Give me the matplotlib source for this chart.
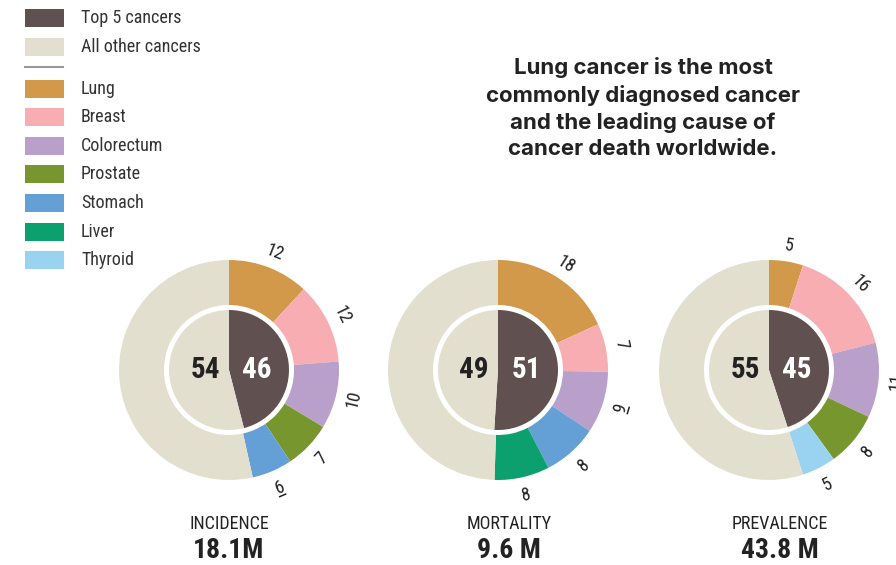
import numpy as np
import matplotlib
matplotlib.use('Agg')
import matplotlib.pyplot as plt
from matplotlib.patches import Rectangle
from matplotlib import font_manager

plt.close('all')

# fonts: try a narrow family for the numbers and labels
installed = {f.name for f in font_manager.fontManager.ttflist}
narrow = 'DejaVu Sans'
for name in ['Roboto Condensed', 'Liberation Sans Narrow', 'DejaVu Sans Condensed', 'Roboto']:
    if name in installed:
        narrow = name
        break
head_font = 'DejaVu Sans'
for name in ['Inter', 'Open Sans', 'Lato']:
    if name in installed:
        head_font = name
        break

# data
legend_names = ['Top 5 cancers', 'All other cancers', 'Lung', 'Breast',
                'Colorectum', 'Prostate', 'Stomach', 'Liver', 'Thyroid']
colors = {'Top 5 cancers': '#605050', 'All other cancers': '#e3dfcf',
          'Lung': '#d3994a', 'Breast': '#f7adb2', 'Colorectum': '#b9a0cb',
          'Prostate': '#77962e', 'Stomach': '#649fd6', 'Liver': '#0ca06f',
          'Thyroid': '#99d3f0'}

panel_names = ['INCIDENCE', 'MORTALITY', 'PREVALENCE']
panel_totals = ['18.1M', '9.6 M', '43.8 M']

incidence_sites = ['Lung', 'Breast', 'Colorectum', 'Prostate', 'Stomach']
incidence_vals = [12, 12, 10, 7, 6]
mortality_sites = ['Lung', 'Breast', 'Colorectum', 'Stomach', 'Liver']
mortality_vals = [18, 7, 9, 8, 8]
prevalence_sites = ['Lung', 'Breast', 'Colorectum', 'Prostate', 'Thyroid']
prevalence_vals = [5, 16, 11, 8, 5]

top5_share = [46, 51, 45]
other_share = [54, 49, 55]

title = ('Lung cancer is the most\ncommonly diagnosed cancer\n'
         'and the leading cause of\ncancer death worldwide.')

W, H = 896, 565
fig = plt.figure(figsize=(W / 100, H / 100), dpi=100)
ax = fig.add_axes([0, 0, 1, 1])


def Y(y):
    return H - y


ink = '#222222'
centers = [(229, 370), (498, 370), (769, 370)]
label_x = [229, 509, 780]
sites_all = [incidence_sites, mortality_sites, prevalence_sites]
vals_all = [incidence_vals, mortality_vals, prevalence_vals]
r_out, ring_w, r_in, r_lab = 110, 45, 60, 127
half_cap = 6.4  # half the digit height in px, to centre on baseline anchors

for i, (cx, cy) in enumerate(centers):
    sites = sites_all[i]
    vals = vals_all[i]
    ring = vals + [other_share[i]]
    ring_cols = [colors[s] for s in sites] + [colors['All other cancers']]
    ax.pie(ring, colors=ring_cols, radius=r_out, center=(cx, Y(cy)),
           startangle=90, counterclock=False,
           wedgeprops=dict(width=ring_w, linewidth=0))
    ax.pie([top5_share[i], other_share[i]],
           colors=[colors['Top 5 cancers'], colors['All other cancers']],
           radius=r_in, center=(cx, Y(cy)), startangle=90, counterclock=False,
           wedgeprops=dict(linewidth=0))

    # values around the ring
    total = float(sum(ring))
    cum = 0
    for v in vals:
        a = 360 * (cum + v / 2) / total
        cum += v
        rad = np.radians(a)
        x = cx + r_lab * np.sin(rad)
        y = Y(cy) + r_lab * np.cos(rad)
        rot = -a if a <= 90 else 180 - a
        rr = np.radians(rot)
        ux, uy = np.cos(rr), np.sin(rr)     # along the baseline
        nx, ny = -np.sin(rr), np.cos(rr)    # glyph "up"
        bx = x - half_cap * nx
        by = y - half_cap * ny
        ax.text(bx, by, str(v), rotation=rot, rotation_mode='anchor',
                ha='center', va='baseline', fontsize=13, family=narrow,
                color=ink)
        if v in (6, 9):
            # underline so 6 and 9 can be told apart
            ox, oy = bx - 3 * nx, by - 3 * ny
            ax.plot([ox - 4 * ux, ox + 4 * ux], [oy - 4 * uy, oy + 4 * uy],
                    color=ink, lw=1.1, solid_capstyle='butt')

    ax.text(cx - 24, Y(cy), str(other_share[i]), ha='center', va='center',
            fontsize=21, fontweight='bold', family=narrow, color=ink)
    ax.text(cx + 28, Y(cy), str(top5_share[i]), ha='center', va='center',
            fontsize=21, fontweight='bold', family=narrow, color='white')

    ax.text(label_x[i], Y(524), panel_names[i], ha='center', va='center',
            fontsize=13, family=narrow, color=ink)
    ax.text(label_x[i], Y(551), panel_totals[i], ha='center', va='center',
            fontsize=20, fontweight='bold', family=narrow, color=ink)

# legend
leg_y = [18, 47, 89, 117, 146, 174, 203, 232, 260]
for name, yy in zip(legend_names, leg_y):
    ax.add_patch(Rectangle((25, Y(yy) - 9), 39, 18, color=colors[name], lw=0))
    ax.text(81, Y(yy), name, ha='left', va='center', fontsize=13,
            family=narrow, color='#333333')
ax.plot([25, 63], [Y(67), Y(67)], color='#999999', lw=1.5)

ax.text(643, Y(108), title, ha='center', va='center', fontsize=16,
        fontweight='bold', family=head_font, color=ink, linespacing=1.37)

ax.set_xlim(0, W)
ax.set_ylim(0, H)
ax.set_aspect('equal')
ax.axis('off')

fig.savefig('out.png', dpi=100)
